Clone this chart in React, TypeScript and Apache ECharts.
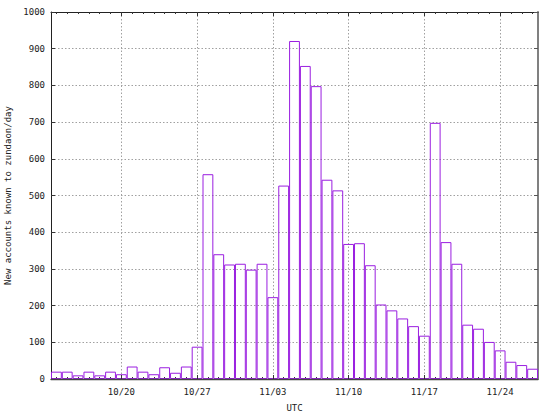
import React, { useEffect, useRef } from 'react';
import * as echarts from 'echarts';

const dates: string[] = [
  '10/14', '10/15', '10/16', '10/17', '10/18', '10/19', '10/20', '10/21', '10/22',
  '10/23', '10/24', '10/25', '10/26', '10/27', '10/28', '10/29', '10/30', '10/31',
  '11/01', '11/02', '11/03', '11/04', '11/05', '11/06', '11/07', '11/08', '11/09',
  '11/10', '11/11', '11/12', '11/13', '11/14', '11/15', '11/16', '11/17', '11/18',
  '11/19', '11/20', '11/21', '11/22', '11/23', '11/24', '11/25', '11/26', '11/27',
];

const newAccounts: number[] = [
  20, 20, 10, 20, 10, 20, 13, 34, 20,
  13, 32, 17, 34, 88, 558, 340, 312, 314,
  298, 314, 223, 527, 921, 853, 798, 543, 514,
  368, 370, 310, 203, 187, 165, 144, 118, 698,
  373, 314, 148, 137, 101, 78, 47, 38, 28,
];

const weekLabels: string[] = ['10/20', '10/27', '11/03', '11/10', '11/17', '11/24'];

const yMin = 0;
const yMax = 1000;
const yStep = 100;

const yTitle = 'New accounts known to zundaon/day';
const xTitle = 'UTC';

export default function App() {
  const ref = useRef<HTMLDivElement>(null);

  useEffect(() => {
    if (!ref.current) return;
    const chart = echarts.init(ref.current, null, { renderer: 'svg' });
    const font = 'DejaVu Sans Mono';
    const fs = 9;
    const textColor = '#222';
    const purple = '#9a1ee0';
    const isWeek = (_i: number, v: string) => weekLabels.indexOf(v) >= 0;
    const gridLine = { color: '#a0a0a0', width: 1, type: [1.5, 2] as any };

    const baseX = {
      type: 'category' as const,
      data: dates,
      boundaryGap: true,
    };

    chart.setOption({
      animation: false,
      backgroundColor: '#ffffff',
      grid: {
        left: 51, right: 16, top: 12, bottom: 37,
        containLabel: false,
        outerBoundsMode: 'none',
      },
      xAxis: [
        {
          ...baseX,
          position: 'bottom',
          axisLine: { show: false },
          axisTick: { show: true, inside: true, length: 2, interval: 0, alignWithLabel: true, lineStyle: { color: '#333' } },
          axisLabel: { show: true, interval: isWeek, margin: 8, fontSize: fs, fontFamily: font, color: textColor },
          splitLine: { show: true, interval: isWeek, alignWithLabel: true, lineStyle: gridLine },
          name: xTitle,
          nameLocation: 'middle',
          nameGap: 24,
          nameTextStyle: { fontSize: fs, fontFamily: font, color: textColor },
        },
        {
          ...baseX,
          position: 'bottom',
          z: 5,
          axisLine: { show: true, lineStyle: { color: '#444', width: 1.3 } },
          axisTick: { show: true, inside: true, length: 4, interval: isWeek, alignWithLabel: true, lineStyle: { color: '#333' } },
          axisLabel: { show: false },
          splitLine: { show: false },
        },
        {
          ...baseX,
          position: 'top',
          axisLine: { show: true, lineStyle: { color: '#222', width: 1 } },
          axisTick: { show: true, inside: true, length: 2, interval: 0, alignWithLabel: true, lineStyle: { color: '#333' } },
          axisLabel: { show: false },
          splitLine: { show: false },
        },
        {
          ...baseX,
          position: 'top',
          axisLine: { show: false },
          axisTick: { show: true, inside: true, length: 4, interval: isWeek, alignWithLabel: true, lineStyle: { color: '#333' } },
          axisLabel: { show: false },
          splitLine: { show: false },
        },
      ],
      yAxis: [
        {
          type: 'value',
          position: 'left',
          min: yMin,
          max: yMax,
          interval: yStep,
          axisLine: { show: true, lineStyle: { color: '#222', width: 1 } },
          axisTick: { show: true, inside: true, length: 4, lineStyle: { color: '#333' } },
          axisLabel: {
            show: true, margin: 6, fontSize: fs, fontFamily: font, color: textColor,
            formatter: (v: number) => String(v),
          },
          splitLine: { show: true, lineStyle: gridLine },
          name: yTitle,
          nameLocation: 'middle',
          nameGap: 31,
          nameTextStyle: { fontSize: fs, fontFamily: font, color: textColor },
        },
        {
          type: 'value',
          position: 'right',
          min: yMin,
          max: yMax,
          interval: yStep,
          axisLine: { show: true, lineStyle: { color: '#808080', width: 2 } },
          axisTick: { show: true, inside: true, length: 4, lineStyle: { color: '#555' } },
          axisLabel: { show: false },
          splitLine: { show: false },
        },
      ],
      series: [
        {
          type: 'bar',
          xAxisIndex: 0,
          yAxisIndex: 0,
          data: newAccounts,
          barCategoryGap: '0%',
          itemStyle: { color: 'rgba(0,0,0,0)', borderColor: purple, borderWidth: 1 },
          emphasis: { disabled: true },
          silent: true,
        },
      ],
    });

    return () => {
      chart.dispose();
    };
  }, []);

  return (
    <div
      ref={ref}
      style={{ position: 'fixed', left: 0, top: 0, width: 554, height: 416, background: '#fff' }}
    />
  );
}
